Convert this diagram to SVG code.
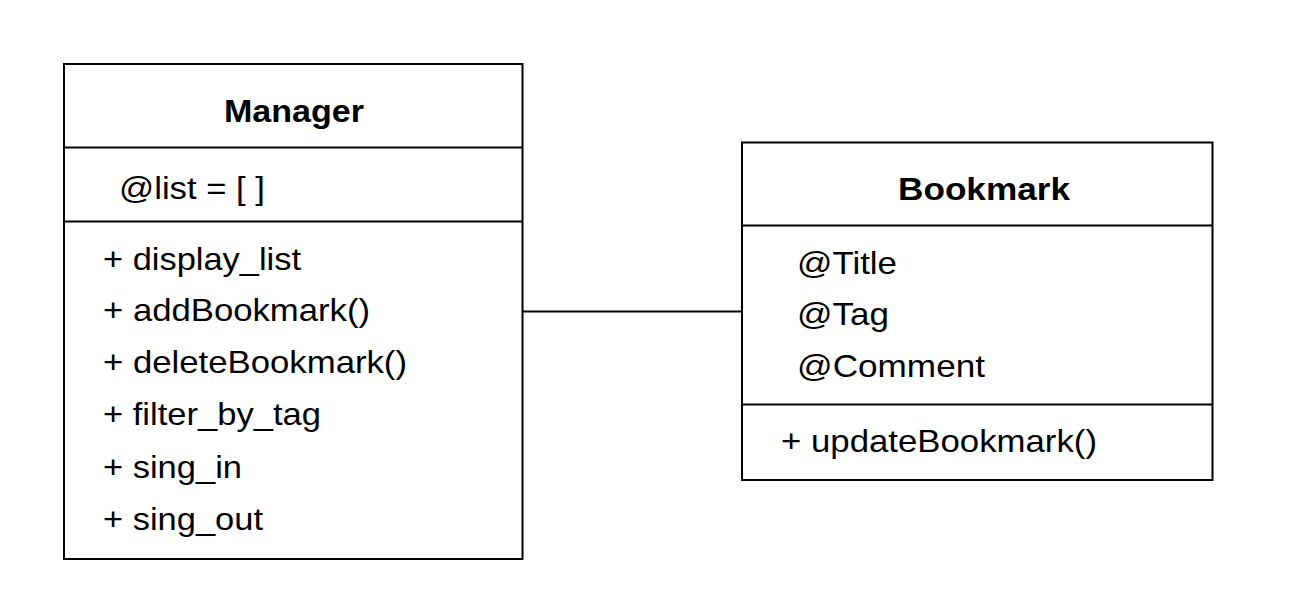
<svg xmlns="http://www.w3.org/2000/svg" width="1312" height="606" viewBox="0 0 1312 606">
<style>
.box{fill:#fff;stroke:#000;stroke-width:2}
.div{stroke:#000;stroke-width:2}
.conn{stroke:#000;stroke-width:2;fill:none}
text{font-family:"Liberation Sans",Arial,sans-serif;font-size:31.5px;fill:#000}
.title{font-weight:bold}
</style>
<rect width="1312" height="606" fill="#fff"/>
<g id="connectors">
<line class="conn" x1="523" y1="311.5" x2="742" y2="311.5"/>
</g>
<g id="manager">
<rect class="box" x="64" y="64" width="458.5" height="495"/>
<line class="div" x1="64" y1="147.5" x2="522.5" y2="147.5"/>
<line class="div" x1="64" y1="221.5" x2="522.5" y2="221.5"/>
<text class="title" x="224" y="121.5" textLength="140" lengthAdjust="spacingAndGlyphs">Manager</text>
<text x="119" y="198.5" textLength="146" lengthAdjust="spacingAndGlyphs">@list = [ ]</text>
<text x="103" y="269.5" textLength="198" lengthAdjust="spacingAndGlyphs">+ display_list</text>
<text x="103" y="321" textLength="267" lengthAdjust="spacingAndGlyphs">+ addBookmark()</text>
<text x="103" y="373" textLength="304" lengthAdjust="spacingAndGlyphs">+ deleteBookmark()</text>
<text x="103" y="425" textLength="218" lengthAdjust="spacingAndGlyphs">+ filter_by_tag</text>
<text x="103" y="478" textLength="139" lengthAdjust="spacingAndGlyphs">+ sing_in</text>
<text x="103" y="530" textLength="160" lengthAdjust="spacingAndGlyphs">+ sing_out</text>
</g>
<g id="bookmark">
<rect class="box" x="742" y="142.5" width="470.5" height="337.5"/>
<line class="div" x1="742" y1="225.5" x2="1212.5" y2="225.5"/>
<line class="div" x1="742" y1="404.5" x2="1212.5" y2="404.5"/>
<text class="title" x="898" y="199.5" textLength="172" lengthAdjust="spacingAndGlyphs">Bookmark</text>
<text x="797" y="273.5" textLength="100" lengthAdjust="spacingAndGlyphs">@Title</text>
<text x="797" y="325" textLength="92" lengthAdjust="spacingAndGlyphs">@Tag</text>
<text x="797" y="377" textLength="188" lengthAdjust="spacingAndGlyphs">@Comment</text>
<text x="781" y="452" textLength="316" lengthAdjust="spacingAndGlyphs">+ updateBookmark()</text>
</g>
</svg>
